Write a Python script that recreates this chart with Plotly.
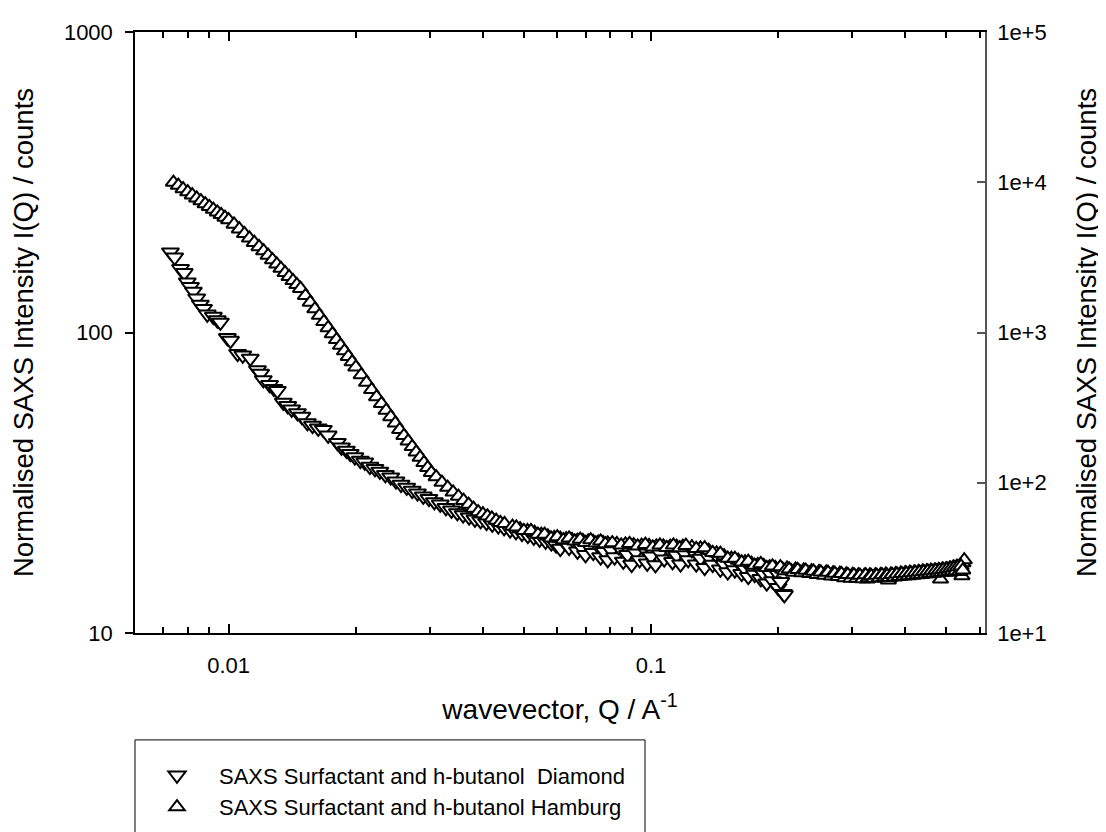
import plotly.graph_objects as go

# ---------------- data ----------------
diamond_q = [
    0.00728, 0.00745, 0.00769, 0.00785, 0.00798, 0.00812, 0.00825, 0.00840, 0.00857, 0.00872,
    0.00890, 0.00920, 0.00940, 0.00956, 0.00993, 0.0101, 0.0105, 0.0108, 0.01125, 0.0117,
    0.0119, 0.01208, 0.0125, 0.0128, 0.01304, 0.01347, 0.0138, 0.0141, 0.01455, 0.0149,
    0.01536, 0.0158, 0.0163, 0.01676, 0.0172, 0.01809, 0.0185, 0.0190, 0.0194, 0.0199,
    0.0205, 0.0210, 0.0216, 0.0222, 0.0228, 0.0235, 0.0242, 0.0249, 0.0256, 0.0264,
    0.0272, 0.0280, 0.0289, 0.0298, 0.0307, 0.0317, 0.0327, 0.0337, 0.0348, 0.0359,
    0.0371, 0.0383, 0.0395, 0.0408, 0.0421, 0.0435, 0.0449, 0.0464, 0.0479, 0.0495,
    0.0511, 0.0528, 0.0545, 0.0563, 0.0581, 0.0596,
    0.0610, 0.0625, 0.0640, 0.0655, 0.0670, 0.0685, 0.0700, 0.0715, 0.0730, 0.0745,
    0.0760, 0.0775, 0.0790, 0.0805, 0.0820, 0.0840, 0.0860, 0.0880, 0.0900, 0.0920,
    0.0940, 0.0960, 0.0980, 0.1000, 0.1025, 0.1050, 0.1075, 0.1100, 0.1125, 0.1150,
    0.1175, 0.1200, 0.1225, 0.1250, 0.1280, 0.1310, 0.1340, 0.1370, 0.1400, 0.1430,
    0.1460, 0.1490, 0.1520, 0.1550, 0.1580, 0.1610, 0.1640, 0.1670, 0.1700, 0.1730,
    0.1760, 0.1790, 0.1820, 0.1850, 0.1880, 0.1910, 0.1940, 0.1970, 0.2000, 0.2030,
    0.2060, 0.2070,
]
diamond_i = [
    185, 178, 163, 158, 147, 142, 137, 130, 124, 120,
    115, 113, 110, 108, 96, 94, 85, 84, 82, 75,
    73, 69.5, 67, 65, 64, 58.5, 57, 55.5, 54, 52.5,
    50, 49, 48, 47.5, 45.5, 43, 41.5, 40.5, 39.5, 38.5,
    37.5, 37, 35.8, 35.2, 34.5, 33.6, 33, 32, 31.2, 30.5,
    29.8, 29.2, 28.5, 28, 27.3, 26.8, 26.1, 25.6, 25.1, 24.7,
    24.3, 23.9, 23.6, 23.3, 23.0, 22.7, 22.4, 22.0, 21.7, 21.4,
    21.1, 20.8, 20.5, 20.2, 19.9, 19.6,
    19.1, 20.0, 19.25, 20.3, 18.7, 19.25, 18.2, 19.35, 18.5, 19.7,
    17.9, 18.65, 17.5, 18.85, 17.9, 19.3, 17.3, 18.2, 16.9, 18.55,
    17.5, 19.15, 17.05, 18.0, 16.85, 18.45, 17.6, 19.1, 17.25, 18.1,
    16.95, 18.4, 17.5, 18.9, 16.95, 17.7, 16.5, 17.85, 16.9, 18.1,
    16.3, 16.9, 15.95, 16.95, 16.2, 17.2, 15.75, 16.3, 15.4, 16.35,
    15.65, 16.6, 15.15, 15.7, 14.65, 15.8, 14.9, 16.1, 14.15, 14.8,
    13.5, 13.4,
]

hamburg_q = [
    0.0074, 0.0076, 0.0078, 0.0080, 0.0082, 0.0084, 0.0086, 0.0088, 0.0090, 0.0092, 0.0094, 0.0096, 0.0098, 0.0100,
    0.0103, 0.0106, 0.0109, 0.0112, 0.0115, 0.0118, 0.0121, 0.0124, 0.0127, 0.0130, 0.0133, 0.0136, 0.0139, 0.0142, 0.0145, 0.0148,
    0.0152, 0.0156, 0.0160, 0.0164, 0.0168, 0.0172, 0.0176, 0.0180, 0.0184, 0.0188, 0.0192, 0.0196, 0.0200,
    0.0206, 0.0212, 0.0218, 0.0224, 0.0230, 0.0236, 0.0242, 0.0248, 0.0254, 0.0260, 0.0266, 0.0272, 0.0278, 0.0284, 0.0290, 0.0296, 0.0302,
    0.031, 0.032, 0.033, 0.034, 0.035, 0.036, 0.037, 0.038, 0.039, 0.040, 0.041, 0.042, 0.043, 0.044, 0.045,
    0.047, 0.049, 0.051, 0.053, 0.055, 0.057, 0.059, 0.061, 0.063, 0.065, 0.067, 0.069, 0.071, 0.073, 0.075, 0.077, 0.079,
    0.083, 0.087, 0.091, 0.095, 0.099, 0.103, 0.107, 0.111, 0.115, 0.119,
    0.125, 0.131, 0.137, 0.143, 0.149, 0.155, 0.161, 0.167, 0.173, 0.179, 0.185, 0.191, 0.197,
    0.205, 0.210, 0.215, 0.220, 0.225, 0.230, 0.235, 0.240, 0.245, 0.250,
    0.255, 0.260, 0.265, 0.270, 0.275, 0.280, 0.285, 0.290, 0.295, 0.300,
    0.305, 0.310, 0.315, 0.320, 0.325, 0.330, 0.335, 0.340, 0.345, 0.350,
    0.355, 0.360, 0.365, 0.370, 0.375, 0.380, 0.385, 0.390, 0.395, 0.400,
    0.405, 0.410, 0.415, 0.420, 0.425, 0.430, 0.435, 0.440, 0.445, 0.450,
    0.455, 0.460, 0.465, 0.470, 0.475, 0.480, 0.485, 0.490, 0.495, 0.500,
    0.505, 0.510, 0.515, 0.520, 0.525, 0.530, 0.535, 0.540, 0.545, 0.548, 0.552,
]
hamburg_i = [
    316, 308.5, 300.8, 293.6, 286.8, 280.2, 274, 268, 262.4, 256.9, 251.7, 246.7, 241.8, 237.2,
    229.2, 221, 213.3, 206.1, 199.3, 192.9, 186.8, 180.7, 174.6, 168.8, 163.4, 158.2, 153.3, 148.7, 144.3, 140.1,
    132.7, 126, 119.8, 114, 108.7, 103.7, 99, 94.6, 90.6, 86.8, 83.2, 79.8, 76.7,
    72.3, 68.2, 64.5, 61.1, 58, 55.1, 52.4, 49.9, 47.5, 45.4, 43.5, 41.7, 40, 38.4, 36.9, 35.5, 34.2,
    33.1, 31.7, 30.5, 29.42, 28.5, 27.6, 26.8, 26.0, 25.3, 24.9, 24.5, 24.1, 23.7, 23.3, 23.1,
    22.64, 22.2, 21.9, 21.6, 21.3, 21.0, 20.75, 20.65, 20.55, 20.45, 20.35, 20.28, 20.2, 20.12, 20.05, 19.98, 19.92,
    19.82, 19.74, 19.66, 19.58, 19.52, 19.47, 19.44, 19.42, 19.42, 19.42,
    19.35, 19.15, 18.85, 18.45, 18.05, 17.7, 17.45, 17.25, 17.05, 16.9, 16.75, 16.6, 16.5,
    16.3, 16.45, 16.1, 16.3, 16.0, 16.2, 15.9, 16.1, 15.8, 16.0,
    15.7, 15.95, 15.6, 15.85, 15.5, 15.8, 15.45, 15.7, 15.3, 15.65,
    15.4, 15.6, 15.3, 15.55, 15.1, 15.6, 15.35, 15.6, 15.3, 15.65,
    15.4, 15.7, 15.0, 15.7, 15.45, 15.75, 15.5, 15.8, 15.55, 15.85,
    15.6, 15.9, 15.65, 15.95, 15.7, 16.0, 15.75, 16.05, 15.8, 16.1,
    15.85, 16.15, 15.9, 16.2, 15.95, 16.25, 15.1, 16.3, 16.05, 16.35,
    16.1, 16.45, 16.2, 16.55, 15.9, 16.65, 16.3, 16.8, 15.5, 17.1, 17.5,
]

# second (interleaved) Hamburg frame at the higher Q values
hamburg_q_dense = [
    0.048, 0.050, 0.052, 0.054, 0.056, 0.058, 0.060, 0.062, 0.064, 0.066, 0.068, 0.070, 0.072, 0.074, 0.076, 0.078,
    0.081, 0.085, 0.089, 0.093, 0.097, 0.101, 0.105, 0.109, 0.113, 0.117, 0.121,
    0.128, 0.134, 0.140, 0.146, 0.152, 0.158, 0.164, 0.170, 0.176, 0.182, 0.188, 0.194,
    0.2025, 0.2075, 0.2125, 0.2175, 0.2225, 0.2275, 0.2325, 0.2375, 0.2425, 0.2475,
    0.2525, 0.2575, 0.2625, 0.2675, 0.2725, 0.2775, 0.2825, 0.2875, 0.2925, 0.2975,
    0.3025, 0.3075, 0.3125, 0.3175, 0.3225, 0.3275, 0.3325, 0.3375, 0.3425, 0.3475,
    0.3525, 0.3575, 0.3625, 0.3675, 0.3725, 0.3775, 0.3825, 0.3875, 0.3925, 0.3975,
    0.4025, 0.4075, 0.4125, 0.4175, 0.4225, 0.4275, 0.4325, 0.4375, 0.4425, 0.4475,
    0.4525, 0.4575, 0.4625, 0.4675, 0.4725, 0.4775, 0.4825, 0.4875, 0.4925, 0.4975,
    0.5025, 0.5075, 0.5125, 0.5175, 0.5225, 0.5275, 0.5325, 0.5375, 0.5425, 0.5475,
]
hamburg_i_dense = [
    22.5, 21.9, 21.9, 21.3, 21.3, 20.7, 20.9, 20.4, 20.7, 20.2, 20.5, 20.0, 20.4, 19.9, 20.2, 19.8,
    19.95, 19.6, 19.85, 19.45, 19.7, 19.3, 19.6, 19.25, 19.6, 19.2, 19.55,
    19.1, 19.2, 18.5, 18.4, 17.7, 17.7, 17.2, 17.3, 16.8, 17.0, 16.5, 16.7,
    16.6, 16.1, 16.3, 15.9, 16.25, 15.85, 16.15, 15.75, 16.05, 15.65,
    15.95, 15.55, 15.9, 15.45, 15.8, 15.4, 15.75, 15.25, 15.65, 15.2,
    15.6, 15.2, 15.55, 15.15, 15.6, 15.25, 15.5, 15.2, 15.55, 15.25,
    15.6, 15.3, 15.55, 15.3, 15.65, 15.35, 15.7, 15.4, 15.75, 15.45,
    15.8, 15.5, 15.85, 15.55, 15.9, 15.6, 15.95, 15.65, 16.0, 15.7,
    16.05, 15.75, 16.1, 15.8, 16.15, 15.85, 16.2, 15.9, 16.25, 15.95,
    16.3, 16.0, 16.4, 16.05, 16.5, 16.1, 16.6, 16.0, 16.7, 16.2,
]

series_names = [
    "SAXS Surfactant and h-butanol \u00a0Diamond",
    "SAXS Surfactant and h-butanol Hamburg",
]

x_major_vals = [0.01, 0.1]
x_major_text = ["0.01", "0.1"]
x_minor_vals = [0.006, 0.007, 0.008, 0.009, 0.02, 0.03, 0.04, 0.05, 0.06, 0.07, 0.08, 0.09,
                0.2, 0.3, 0.4, 0.5, 0.6]
y_left_vals = [10, 100, 1000]
y_left_text = ["10", "100", "1000"]
y_right_vals = [1e1, 1e2, 1e3, 1e4, 1e5]
y_right_text = ["1e+1", "1e+2", "1e+3", "1e+4", "1e+5"]

x_title = "wavevector, Q / A<sup>-1</sup>"
y_title = "Normalised SAXS Intensity I(Q) / counts"

FONT = "Liberation Sans, Arial, sans-serif"

fig = go.Figure()
fig.add_trace(go.Scatter(
    x=diamond_q, y=diamond_i, mode="markers", name=series_names[0],
    marker=dict(symbol="triangle-down", size=15, color="white",
                line=dict(color="black", width=2.0)),
))
fig.add_trace(go.Scatter(
    x=hamburg_q + hamburg_q_dense, y=hamburg_i + hamburg_i_dense,
    mode="markers", name=series_names[1],
    marker=dict(symbol="triangle-up", size=13.5, color="white",
                line=dict(color="black", width=2.0)),
))
# empty trace so that the right-hand axis is drawn
fig.add_trace(go.Scatter(x=[None], y=[None], yaxis="y2", showlegend=False,
                         hoverinfo="skip", mode="markers"))

# the page body adds an 8 px offset, so the margins are reduced by 8 px at left/top
fig.update_layout(
    width=1106, height=832,
    margin=dict(l=127, r=129, t=18, b=203),
    paper_bgcolor="white", plot_bgcolor="white",
    font=dict(family=FONT, color="black", size=21),
    showlegend=True,
    legend=dict(
        x=0, xanchor="left", y=-0.2021, yanchor="top",
        borderwidth=0, bgcolor="rgba(0,0,0,0)",
        font=dict(family=FONT, size=22, color="black"),
        itemwidth=74,
    ),
    shapes=[dict(
        type="rect", xref="paper", yref="paper",
        x0=0, x1=0.60, y0=-0.34, y1=-0.1779,
        line=dict(color="black", width=1), fillcolor="rgba(0,0,0,0)", layer="below",
    )],
    xaxis=dict(
        type="log", range=[-2.2218, -0.2090],
        showline=True, linecolor="black", linewidth=1.5, mirror="ticks",
        ticks="inside", ticklen=9, tickwidth=1.5, tickcolor="black",
        tickmode="array", tickvals=x_major_vals, ticktext=x_major_text,
        minor=dict(ticks="inside", ticklen=6, tickwidth=1.5, tickcolor="black",
                   tickmode="array", tickvals=x_minor_vals, showgrid=False),
        showgrid=False, zeroline=False,
        tickfont=dict(family=FONT, size=22), ticklabelstandoff=12,
        title=dict(text=x_title, font=dict(family=FONT, size=28), standoff=22),
    ),
    yaxis=dict(
        type="log", range=[1, 3],
        showline=True, linecolor="black", linewidth=1.5, mirror=False,
        ticks="outside", ticklen=8, tickwidth=1.5, tickcolor="black",
        tickmode="array", tickvals=y_left_vals, ticktext=y_left_text,
        showgrid=False, zeroline=False,
        tickfont=dict(family=FONT, size=22), ticklabelstandoff=8,
        title=dict(text=y_title, font=dict(family=FONT, size=27.5), standoff=22),
    ),
    yaxis2=dict(
        type="log", range=[1, 5], overlaying="y", side="right", anchor="x",
        showline=True, linecolor="#555555", linewidth=1.5,
        ticks="inside", ticklen=8, tickwidth=1.5, tickcolor="#555555",
        tickmode="array", tickvals=y_right_vals, ticktext=y_right_text,
        showgrid=False, zeroline=False,
        tickfont=dict(family=FONT, size=22), ticklabelstandoff=6,
        title=dict(text=y_title, font=dict(family=FONT, size=27.5), standoff=31),
    ),
)

fig.write_html("out.html")
